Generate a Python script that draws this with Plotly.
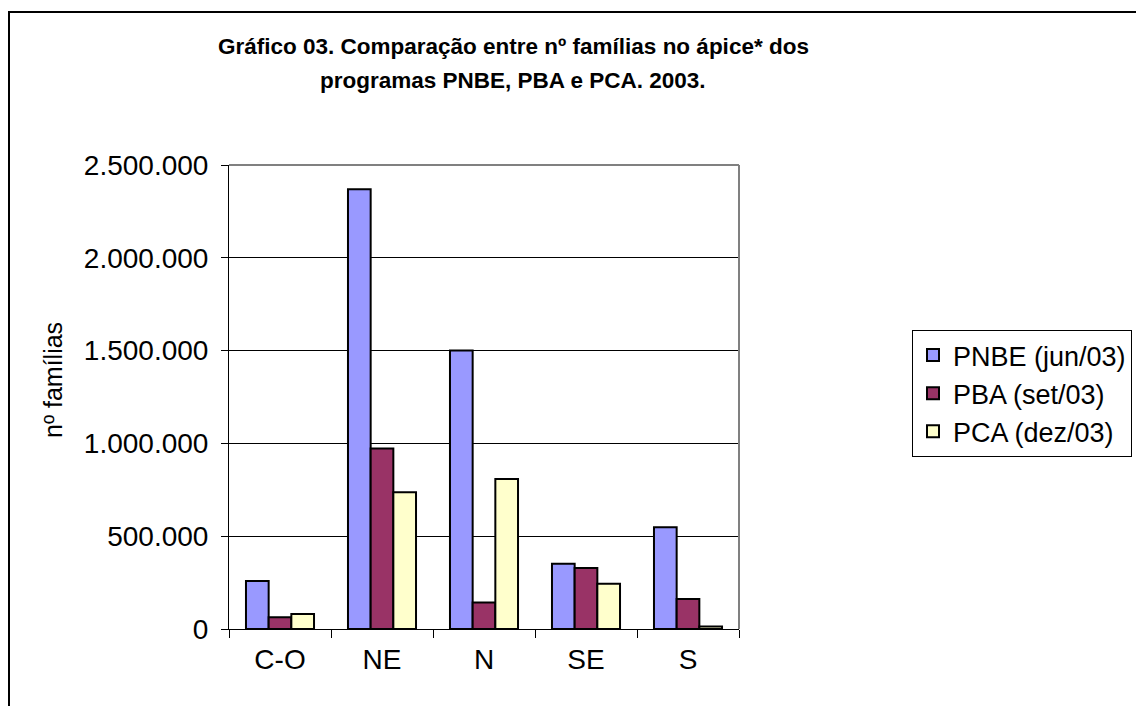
import plotly.graph_objects as go

categories = ["C-O", "NE", "N", "SE", "S"]
pnbe = [258000, 2370000, 1500000, 351000, 548000]
pba = [63000, 973000, 143000, 328000, 161000]
pca = [81000, 737000, 808000, 244000, 14000]
series_names = ["PNBE (jun/03)", "PBA (set/03)", "PCA (dez/03)"]
colors = ["#9999FF", "#993366", "#FFFFCC"]
title_lines = ["Gráfico 03. Comparação entre nº famílias no ápice* dos",
               "programas PNBE, PBA e PCA. 2003."]
y_title = "nº famílias"

FONT = "Liberation Sans, Arial, sans-serif"

fig = go.Figure()
for name, vals, col in zip(series_names, [pnbe, pba, pca], colors):
    fig.add_trace(go.Bar(x=categories, y=vals, name=name,
                         marker=dict(color=col, line=dict(color="black", width=2))))

L, R, T, B = 229, 739, 165, 629
W, H = 1136, 706
pw, ph = R - L, B - T

def px(x):
    return (x - L) / pw

def py(y):
    return (B - y) / ph

fig.update_layout(
    width=W, height=H,
    margin=dict(l=L, r=W - R, t=T, b=H - B, autoexpand=False),
    paper_bgcolor="white", plot_bgcolor="white",
    separators=",.",
    barmode="group", bargap=0.333, bargroupgap=0,
    font=dict(family=FONT, color="black", size=28),
    legend=dict(x=px(912), xanchor="left", y=py(330), yanchor="top",
                bordercolor="black", borderwidth=1, bgcolor="white",
                font=dict(size=27, family=FONT, color="black"),
                tracegroupgap=0),
    showlegend=True,
)
fig.update_xaxes(showline=True, linecolor="black", linewidth=1,
                 ticks="outside", tickson="boundaries", ticklen=8, tickcolor="black",
                 tickfont=dict(size=28), showgrid=False, ticklabelstandoff=5)
fig.update_yaxes(range=[0, 2500000], dtick=500000, tickformat=",d",
                 showline=True, linecolor="black", linewidth=1,
                 ticks="outside", ticklen=7, tickcolor="black",
                 showgrid=True, gridcolor="black", gridwidth=1,
                 zeroline=False, tickfont=dict(size=28), ticklabelstandoff=7)

# title lines
for txt, yy in zip(title_lines, [47, 80]):
    fig.add_annotation(text="<b>" + txt + "</b>", xref="paper", yref="paper",
                       x=px(513), y=py(yy), xanchor="center", yanchor="middle",
                       showarrow=False, font=dict(size=22.5, family=FONT, color="black"))
# y axis title
fig.add_annotation(text=y_title, xref="paper", yref="paper", x=px(53), y=py(380),
                   xanchor="center", yanchor="middle", textangle=-90, showarrow=False,
                   font=dict(size=25, family=FONT, color="black"))

# plot area top/right border in gray
fig.add_shape(type="line", xref="paper", yref="paper", x0=0, x1=1, y0=1, y1=1,
              line=dict(color="#808080", width=2))
fig.add_shape(type="line", xref="paper", yref="paper", x0=1, x1=1, y0=0, y1=1,
              line=dict(color="#808080", width=2))
# outer chart frame
fig.add_shape(type="rect", xref="paper", yref="paper",
              x0=px(9), x1=px(1160), y0=py(730), y1=py(12),
              line=dict(color="black", width=2), fillcolor="rgba(0,0,0,0)")

fig.write_html("out.html")
